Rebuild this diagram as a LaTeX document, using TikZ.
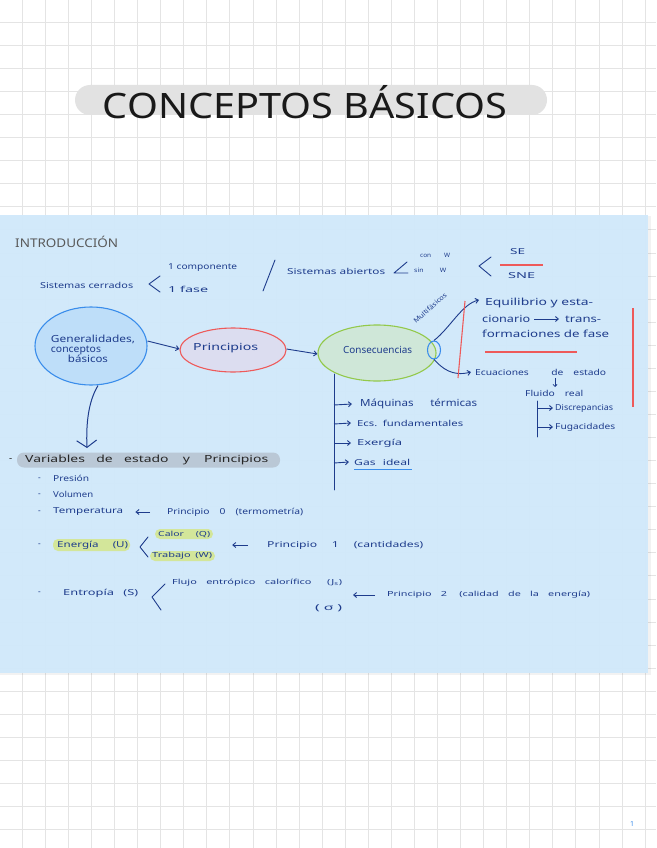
\documentclass[tikz,border=0pt]{standalone}
\usepackage{fontspec}
\setmainfont{Noto Sans}
\usepackage{graphicx}
\usetikzlibrary{arrows.meta,shapes.geometric}
\definecolor{ink}{HTML}{1E3C8C}
\definecolor{gridc}{HTML}{E4E4E4}
\definecolor{bluebg}{HTML}{D1E9FB}
\definecolor{titlegray}{HTML}{E2E2E2}
\definecolor{pillgray}{HTML}{BAC8D6}
\definecolor{hl}{HTML}{D3E69A}
\definecolor{redl}{HTML}{EE5A5A}
\definecolor{bluel}{HTML}{3A8DEB}
\definecolor{genfill}{HTML}{BEDEF9}
\definecolor{prinfill}{HTML}{DCDDF0}
\definecolor{consfill}{HTML}{CFE7D8}
\definecolor{greenl}{HTML}{93C94A}
\newcommand\fw[2]{\resizebox{#1pt}{\height}{#2}}
\begin{document}
\begin{tikzpicture}[x=1pt,y=-1pt,
  hw/.style={anchor=west, inner sep=0pt, text=ink, font=\fontsize{8.2}{9}\selectfont},
  hwm/.style={hw, font=\fontsize{9.8}{11}\selectfont},
  hwt/.style={hw, font=\fontsize{6}{6}\selectfont},
  arr/.style={-{Straight Barb[length=3pt,width=5pt]}, draw=ink, line width=0.9pt},
  inkline/.style={draw=ink, line width=0.9pt, line cap=round, line join=round},
  redline/.style={draw=redl, line width=1.1pt},
  hlbox/.style={fill=hl, rounded corners=5pt, inner sep=0pt}]
\useasboundingbox (0,0) rectangle (656,848);
\fill[white] (0,0) rectangle (656,848);
% grid
\foreach \k in {0,...,27} {\draw[gridc, line width=1pt] ({22.3+23.07*\k},0) -- ({22.3+23.07*\k},848);}
\foreach \k in {0,...,35} {\draw[gridc, line width=1pt] (0,{22.3+23.07*\k}) -- (656,{22.3+23.07*\k});}
% blue region
\fill[black, opacity=0.05] (0,216) rectangle (651,675);
\fill[bluebg, opacity=0.97] (0,215) rectangle (648,673);
% title
\node[fill=titlegray, rounded corners=15pt, minimum width=472pt, minimum height=30pt, inner sep=0pt] (titlebar) at (311,100) {};
\node[inner sep=0pt, text=black!90] (title) at (305,102) {\fontsize{35}{40}\selectfont\fw{404}{CONCEPTOS BÁSICOS}};
% intro
\node[anchor=west, inner sep=0pt, text=black!65, font=\fontsize{12}{14}\selectfont] (intro) at (15,242) {\fw{103}{INTRODUCCIÓN}};
% sistemas cerrados
\node[hw] (cerr) at (40,285) {\fw{93}{Sistemas cerrados}};
\draw[inkline] (160,276) -- (149,284) -- (160,292);
\node[hw] (comp) at (168,268) {\fw{69}{1 componente}};
\node[hw] (fase) at (168,289) {\fw{40}{1 fase}};
\draw[inkline] (275,260) -- (263,291);
\node[hw] (abiert) at (287,271) {\fw{98}{Sistemas abiertos}};
\draw[inkline] (407,262) -- (394,273) -- (408,273);
\node[hwt] (conw) at (420,255) {\fw{30}{con\hspace{12pt}W}};
\node[hwt] (sinw) at (414,270) {\fw{32}{sin\hspace{14pt}W}};
\draw[inkline] (491,257) -- (479,266) -- (491,276);
\node[hw] (se) at (510,252) {\fw{15}{SE}};
\draw[redline] (500,265) -- (543,265);
\node[hw] (sne) at (508,276) {\fw{27}{SNE}};
% main ellipses
\node[ellipse, draw=bluel, fill=genfill, line width=1.1pt, minimum width=112pt, minimum height=78pt, inner sep=0pt] (gen) at (91,346) {};
\node[hwm, anchor=center, align=left] (genT) at (93,349) {\fw{84}{Generalidades,}\\[-1pt]\fw{50}{conceptos}\\[-1pt]\hspace*{17pt}\fw{40}{básicos}};
\node[ellipse, draw=redl, fill=prinfill, line width=1.1pt, minimum width=106pt, minimum height=44pt, inner sep=0pt] (prin) at (233,350) {};
\node[hwm] (prinT) at (193,348) {\fw{65}{Principios}};
\node[ellipse, draw=greenl, fill=consfill, line width=1.1pt, minimum width=118pt, minimum height=56pt, inner sep=0pt] (cons) at (377,353) {};
\node[hwm] (consT) at (343,350) {\fw{69}{Consecuencias}};
\draw[arr] ([yshift=5pt]gen.east) -- ([yshift=1pt]prin.west);
\draw[arr] ([yshift=1pt]prin.east) -- ([yshift=-1pt]cons.west);
% small circle and branches
\node[ellipse, draw=bluel, line width=1.1pt, minimum width=13pt, minimum height=18pt, inner sep=0pt] (circ) at (434,350) {};
\node[hwm] (equi1) at (485,303) {\fw{108}{Equilibrio y esta-}};
\node[hwm] (equi2) at (482,319) {\fw{48}{cionario}};
\node[hwm] (trans) at (565,319) {\fw{36}{trans-}};
\node[hwm] (equi3) at (482,334) {\fw{127}{formaciones de fase}};
\draw[arr] ([xshift=4pt]equi2.east) -- ([xshift=-6pt]trans.west);
\coordinate (upEnd) at (479,300);
\draw[arr] (circ.north) .. controls (450,328) and (462,304) .. (upEnd);
\node[hwt, anchor=center, rotate=42, font=\fontsize{6.5}{7}\selectfont] (multi) at (430,308) {\fw{42}{Multifásicos}};
\node[hw] (ecu) at (475,372) {\fw{131}{Ecuaciones\hspace{18pt}de\hspace{8pt}estado}};
\draw[arr] (circ.south) .. controls (442,368) and (452,377) .. ([xshift=-4pt]ecu.west);
\node[hw] (fluido) at (525,393) {\fw{58}{Fluido\hspace{8pt}real}};
\draw[-{Straight Barb[length=2pt,width=4pt]}, draw=ink, line width=0.8pt] (555,378) -- (555,387);
\node[hw] (disc) at (555,408) {\fw{58}{Discrepancias}};
\node[hw] (fuga) at (555,427) {\fw{60}{Fugacidades}};
\coordinate (fbTop) at (537,401);
\coordinate (fbBot) at (537,437);
\draw[inkline] (fbTop) -- (fbBot);
\draw[arr] (537,408) -- ([xshift=-2pt]disc.west);
\draw[arr] (537,427) -- ([xshift=-2pt]fuga.west);
% red lines
\draw[redline] (465,301) -- (458,378);
\draw[redline] (485,352) -- (577,352);
\draw[redline] (633,308) -- (633,407);
% consecuencias list
\coordinate (cTop) at (334,374);
\coordinate (cBot) at (334,490);
\draw[inkline] (cTop) -- (cBot);
\node[hwm] (maq) at (360,404) {\fw{117}{Máquinas\hspace{14pt}térmicas}};
\node[hw] (ecs) at (357,423) {\fw{106}{Ecs.\hspace{4pt}fundamentales}};
\node[hw] (exer) at (357,443) {\fw{45}{Exergía}};
\node[hw] (gas) at (354,462) {\fw{56}{Gas\hspace{5pt}ideal}};
\draw[bluel, line width=1.2pt] ([yshift=-4pt]gas.south west) -- ([yshift=-4pt,xshift=2pt]gas.south east);
\draw[arr] (334,405) -- ([xshift=-8pt]maq.west);
\draw[arr] (334,424) -- ([xshift=-6pt]ecs.west);
\draw[arr] (334,443) -- ([xshift=-6pt]exer.west);
\draw[arr] (334,463) -- ([xshift=-5pt]gas.west);
% variables
\node[fill=pillgray, rounded corners=7pt, minimum width=263pt, minimum height=15pt, inner sep=0pt] (varpill) at (148.5,460) {};
\node[hwm, text=black!85] (varT) at (25,460) {\fw{243}{Variables\hspace{8pt}de\hspace{8pt}estado\hspace{10pt}y\hspace{10pt}Principios}};
\node[hwm, text=black!85] (dash0) at (9,460) {\textbf{-}};
\draw[-{Straight Barb[length=7pt,width=20pt]}, draw=ink, line width=1pt] (gen.south) ++(7,0) .. controls (88,402) and (86,425) .. (87,448);
\node[hw] (d1) at (38,479) {\textbf{-}};
\node[hw] (pres) at (53,478) {\fw{36}{Presión}};
\node[hw] (d2) at (38,495) {\textbf{-}};
\node[hw] (vol) at (53,494) {\fw{40}{Volumen}};
\node[hw] (d3) at (38,512) {\textbf{-}};
\node[hw] (temp) at (53,512) {\fw{70}{Temperatura}};
\node[hw] (p0) at (167,512) {\fw{136}{Principio\hspace{8pt}0\hspace{8pt}(termometría)}};
\draw[arr] ([xshift=-17pt]p0.west) -- ([xshift=12pt]temp.east);
% energia
\node[hlbox, minimum width=77pt, minimum height=12pt] (hlE) at (91.5,545) {};
\node[hw] (d4) at (38,545) {\textbf{-}};
\node[hw] (ener) at (57,545) {\fw{71}{Energía\hspace{10pt}(U)}};
\draw[inkline] (148,537) -- (140,547) -- (148,557);
\node[hlbox, minimum width=58pt, minimum height=10pt] (hlQ) at (184,534) {};
\node[hlbox, minimum width=65pt, minimum height=10pt] (hlW) at (182.5,556) {};
\node[hw, font=\fontsize{7}{8}\selectfont] (calor) at (158,534) {\fw{52}{Calor\hspace{8pt}(Q)}};
\node[hw, font=\fontsize{7}{8}\selectfont] (trab) at (152,556) {\fw{60}{Trabajo\hspace{3pt}(W)}};
\node[hw] (p1) at (267,545) {\fw{156}{Principio\hspace{10pt}1\hspace{10pt}(cantidades)}};
\draw[arr] ([xshift=-19pt]p1.west) -- ([xshift=17pt]hlW.east |- p1.west);
% entropia
\node[hw] (d5) at (38,593) {\textbf{-}};
\node[hw] (entr) at (63,593) {\fw{75}{Entropía\hspace{6pt}(S)}};
\draw[inkline] (165,584) -- (152,597) -- (161,610);
\node[hw, font=\fontsize{7}{8}\selectfont] (flujo) at (172,583) {\fw{170}{Flujo\hspace{6pt}entrópico\hspace{6pt}calorífico\hspace{10pt}(J\textsubscript{s})}};
\node[hw] (sigma) at (315,608) {\fw{27}{(\hspace{2pt}σ\hspace{2pt})}};
\node[hw, font=\fontsize{7}{8}\selectfont] (p2) at (387,595) {\fw{203}{Principio\hspace{6pt}2\hspace{8pt}(calidad\hspace{6pt}de\hspace{6pt}la\hspace{6pt}energía)}};
\draw[arr] ([xshift=-12pt]p2.west) -- ([xshift=-34pt]p2.west);
% page number
\node[inner sep=0pt, text=bluel, font=\fontsize{7}{8}\selectfont] (pnum) at (632,824) {1};
\end{tikzpicture}
\end{document}
